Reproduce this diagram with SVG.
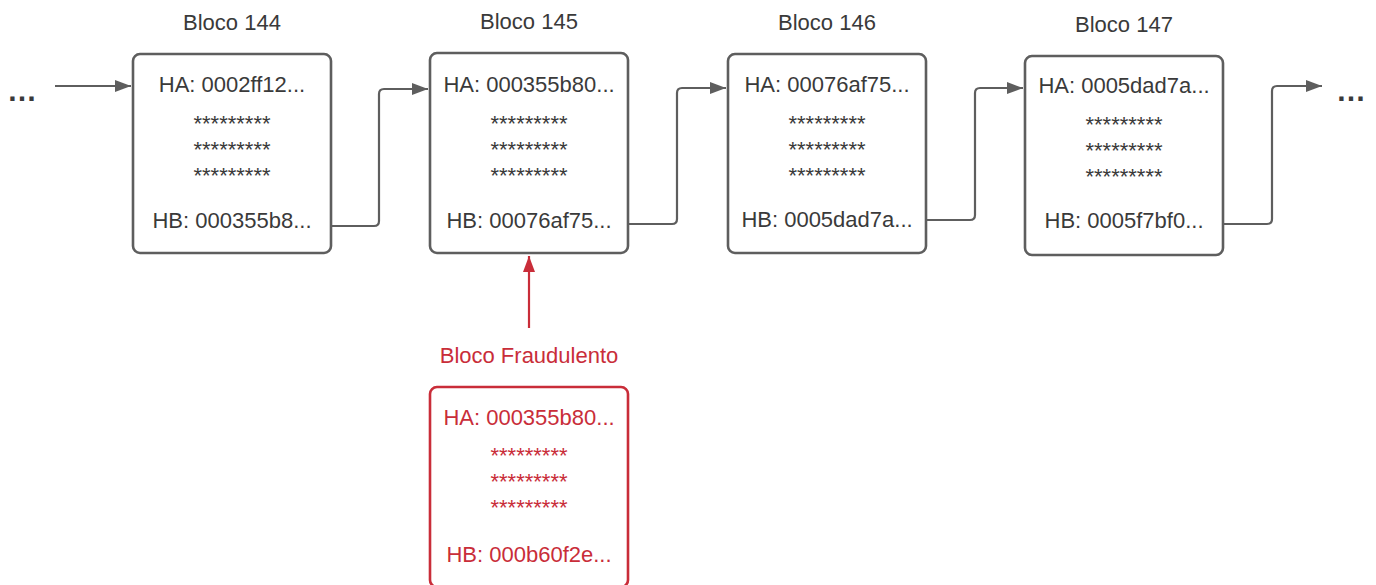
<svg xmlns="http://www.w3.org/2000/svg" width="1376" height="585" viewBox="0 0 1376 585">
  <style>
    .box { fill: #ffffff; stroke: #5e5e5e; stroke-width: 2.6; }
    .fraud { fill: #ffffff; stroke: #c92d39; stroke-width: 2.6; }
    .t { font-family: "Liberation Sans", Arial, sans-serif; font-size: 22px; fill: #3a3a3a; text-anchor: middle; }
    .s { font-family: "Liberation Sans", Arial, sans-serif; font-size: 22px; fill: #3a3a3a; text-anchor: middle; }
    .r { fill: #c92d39; }
    .dots { font-family: "Liberation Sans", Arial, sans-serif; font-size: 30px; font-weight: bold; fill: #3a3a3a; }
    .link { fill: none; stroke: #5e5e5e; stroke-width: 2.2; stroke-linejoin: round; }
    .rlink { fill: none; stroke: #c92d39; stroke-width: 2.2; }
  </style>
  <defs>
    <marker id="ah" viewBox="0 0 16 12" refX="16" refY="6" markerWidth="16" markerHeight="12" markerUnits="userSpaceOnUse" orient="auto">
      <path d="M0,0 L16,6 L0,12 Z" fill="#5e5e5e"/>
    </marker>
    <marker id="ahr" viewBox="0 0 16 12" refX="16" refY="6" markerWidth="16" markerHeight="12" markerUnits="userSpaceOnUse" orient="auto">
      <path d="M0,0 L16,6 L0,12 Z" fill="#c92d39"/>
    </marker>
  </defs>
  <rect width="1376" height="585" fill="#ffffff"/>

  <!-- ellipses at chain ends -->
  <text class="dots" x="7" y="101">…</text>
  <text class="dots" x="1336" y="101">…</text>

  <g id="connectors">
    <path class="link" d="M55,86 H131" marker-end="url(#ah)"/>
    <path class="link" d="M332,226 H374 Q379,226 379,221 V94 Q379,89 384,89 H428" marker-end="url(#ah)"/>
    <path class="link" d="M629,224 H672 Q677,224 677,219 V93 Q677,88 682,88 H726" marker-end="url(#ah)"/>
    <path class="link" d="M927,220 H970 Q975,220 975,215 V93 Q975,88 980,88 H1023" marker-end="url(#ah)"/>
    <path class="link" d="M1224,224 H1267 Q1272,224 1272,219 V91 Q1272,86 1277,86 H1322" marker-end="url(#ah)"/>
    <path class="rlink" d="M529,328 V256" marker-end="url(#ahr)"/>
  </g>

  <g id="bloco-144">
    <text class="t" x="232" y="30">Bloco 144</text>
    <rect class="box" x="133" y="54" width="198" height="199" rx="7"/>
    <text class="t" x="232" y="92">HA: 0002ff12...</text>
    <text class="s" x="232" y="131">*********</text>
    <text class="s" x="232" y="157">*********</text>
    <text class="s" x="232" y="183">*********</text>
    <text class="t" x="232" y="228">HB: 000355b8...</text>
  </g>

  <g id="bloco-145">
    <text class="t" x="529" y="29">Bloco 145</text>
    <rect class="box" x="430" y="53" width="198" height="200" rx="7"/>
    <text class="t" x="529" y="92">HA: 000355b80...</text>
    <text class="s" x="529" y="131">*********</text>
    <text class="s" x="529" y="157">*********</text>
    <text class="s" x="529" y="183">*********</text>
    <text class="t" x="529" y="228">HB: 00076af75...</text>
  </g>

  <g id="bloco-146">
    <text class="t" x="827" y="30">Bloco 146</text>
    <rect class="box" x="728" y="54" width="198" height="199" rx="7"/>
    <text class="t" x="827" y="92">HA: 00076af75...</text>
    <text class="s" x="827" y="131">*********</text>
    <text class="s" x="827" y="157">*********</text>
    <text class="s" x="827" y="183">*********</text>
    <text class="t" x="827" y="227">HB: 0005dad7a...</text>
  </g>

  <g id="bloco-147">
    <text class="t" x="1124" y="32">Bloco 147</text>
    <rect class="box" x="1025" y="56" width="198" height="199" rx="7"/>
    <text class="t" x="1124" y="93">HA: 0005dad7a...</text>
    <text class="s" x="1124" y="132">*********</text>
    <text class="s" x="1124" y="158">*********</text>
    <text class="s" x="1124" y="184">*********</text>
    <text class="t" x="1124" y="228">HB: 0005f7bf0...</text>
  </g>

  <g id="bloco-fraudulento">
    <text class="t r" x="529" y="363">Bloco Fraudulento</text>
    <rect class="fraud" x="430" y="387" width="198" height="200" rx="7"/>
    <text class="t r" x="529" y="425">HA: 000355b80...</text>
    <text class="s r" x="529" y="463">*********</text>
    <text class="s r" x="529" y="489">*********</text>
    <text class="s r" x="529" y="515">*********</text>
    <text class="t r" x="529" y="562">HB: 000b60f2e...</text>
  </g>
</svg>
